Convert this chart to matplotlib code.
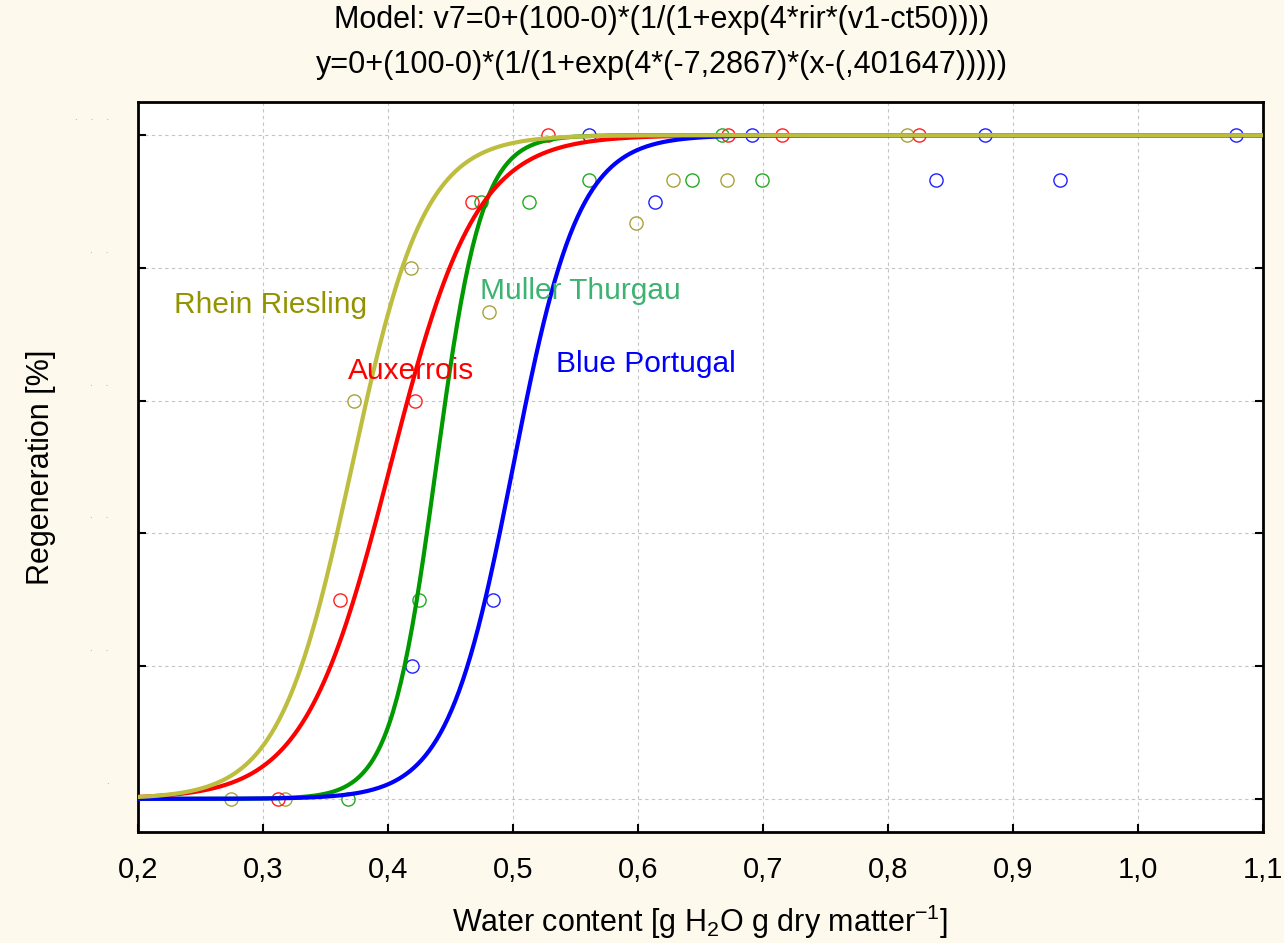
import numpy as np
import matplotlib
matplotlib.use("Agg")
import matplotlib.pyplot as plt
from matplotlib.transforms import ScaledTranslation

plt.rcParams['font.family'] = ['Liberation Sans', 'DejaVu Sans']
plt.rcParams['mathtext.fontset'] = 'custom'
plt.rcParams['mathtext.rm'] = 'Liberation Sans'
plt.rcParams['mathtext.it'] = 'Liberation Sans:italic'

# fitted parameters per cultivar: y = 100 / (1 + exp(4 * rir * (x - ct50)))
cultivars = ["Rhein Riesling", "Auxerrois", "Muller Thurgau", "Blue Portugal"]
rir = [-8.6, -7.2867, -13.7, -9.5]
ct50 = [0.371, 0.401647, 0.4385, 0.500]

# observed regeneration (%) vs water content
riesling_x = [0.2744, 0.3176, 0.3728, 0.4180, 0.4808, 0.5986, 0.6282, 0.6712, 0.8152]
riesling_y = [0, 0, 60, 80, 73.3, 86.7, 93.3, 93.3, 100]
auxerrois_x = [0.3120, 0.3616, 0.4216, 0.4672, 0.5280, 0.6720, 0.7152, 0.8248]
auxerrois_y = [0, 30, 60, 90, 100, 100, 100, 100]
muller_x = [0.3680, 0.4248, 0.4744, 0.5128, 0.5605, 0.6430, 0.6675, 0.6995]
muller_y = [0, 30, 90, 90, 93.3, 93.3, 100, 93.3]
portugal_x = [0.4192, 0.4840, 0.5608, 0.6136, 0.6912, 0.8384, 0.8776, 0.9376, 1.0784]
portugal_y = [20, 30, 100, 90, 100, 93.3, 100, 93.3, 100]

xticks = [0.2, 0.3, 0.4, 0.5, 0.6, 0.7, 0.8, 0.9, 1.0, 1.1]
yticks = [0, 20, 40, 60, 80, 100]

line_colors = ['#bdbd40', '#ff0000', '#009900', '#0000ff']
marker_colors = ['#a8a23a', '#ff2020', '#22aa22', '#2020ff']
label_colors = ['#939300', '#ff0000', '#3cb371', '#0000ff']
label_pos = [(0.3064, 74.4), (0.4184, 64.5), (0.5536, 76.5), (0.6064, 65.5)]

fig = plt.figure(figsize=(12.84, 9.43), dpi=100, facecolor='#fef9ed')
ax = fig.add_axes([0.1075, 0.1177, 0.8761, 0.7741])
ax.set_facecolor('white')

obs = [(riesling_x, riesling_y), (auxerrois_x, auxerrois_y),
       (muller_x, muller_y), (portugal_x, portugal_y)]
for (ox, oy), mc in zip(obs, marker_colors):
    ax.plot(ox, oy, 'o', ms=9.5, mfc='none', mec=mc, mew=1.0, zorder=2)

xs = np.linspace(0.2, 1.1, 600)
for i in [2, 1, 3, 0]:
    ys = 100.0 / (1.0 + np.exp(4 * rir[i] * (xs - ct50[i])))
    ax.plot(xs, ys, color=line_colors[i], lw=3, zorder=3)

for name, (tx, ty), c in zip(cultivars, label_pos, label_colors):
    ax.text(tx, ty, name, color=c, fontsize=21.5, ha='center', va='center', zorder=4)

ax.set_xlim(0.2, 1.1)
ax.set_ylim(-5, 105)
ax.set_xticks(xticks)
ax.set_xticklabels([f"{v:.1f}".replace('.', ',') for v in xticks], fontsize=21)
ax.set_yticks(yticks)
ax.set_yticklabels([])

# the value labels on y only print as faint dots, one per digit
dot_shift = ax.get_yaxis_transform() + ScaledTranslation(0, 0.15, fig.dpi_scale_trans)
for v in yticks:
    ax.text(-0.026, v, '     '.join('.' * len(str(v))), transform=dot_shift,
            ha='right', va='baseline', fontsize=6, color='#8a8a8a',
            family='DejaVu Sans', clip_on=False)

ax.tick_params(axis='both', direction='in', length=6, width=1.5, top=False, right=True)
ax.tick_params(axis='x', pad=17)
ax.grid(True, color='#c4c4c4', ls=(0, (3, 3)), lw=0.8)
for sp in ax.spines.values():
    sp.set_linewidth(2)
    sp.set_color('black')

ax.set_xlabel(r'Water content [g H$_\mathrm{2}$O g dry matter$^\mathrm{-1}$]', fontsize=22, labelpad=14)
ax.set_ylabel('Regeneration [%]', fontsize=22)
ax.yaxis.set_label_coords(-0.073, 0.5)

fig.text(0.5156, 1 - 20 / 943, 'Model: v7=0+(100-0)*(1/(1+exp(4*rir*(v1-ct50))))',
         ha='center', va='center', fontsize=22)
fig.text(0.5156, 1 - 65 / 943, 'y=0+(100-0)*(1/(1+exp(4*(-7,2867)*(x-(,401647)))))',
         ha='center', va='center', fontsize=22)

fig.savefig('out.png', dpi=100, facecolor=fig.get_facecolor())
